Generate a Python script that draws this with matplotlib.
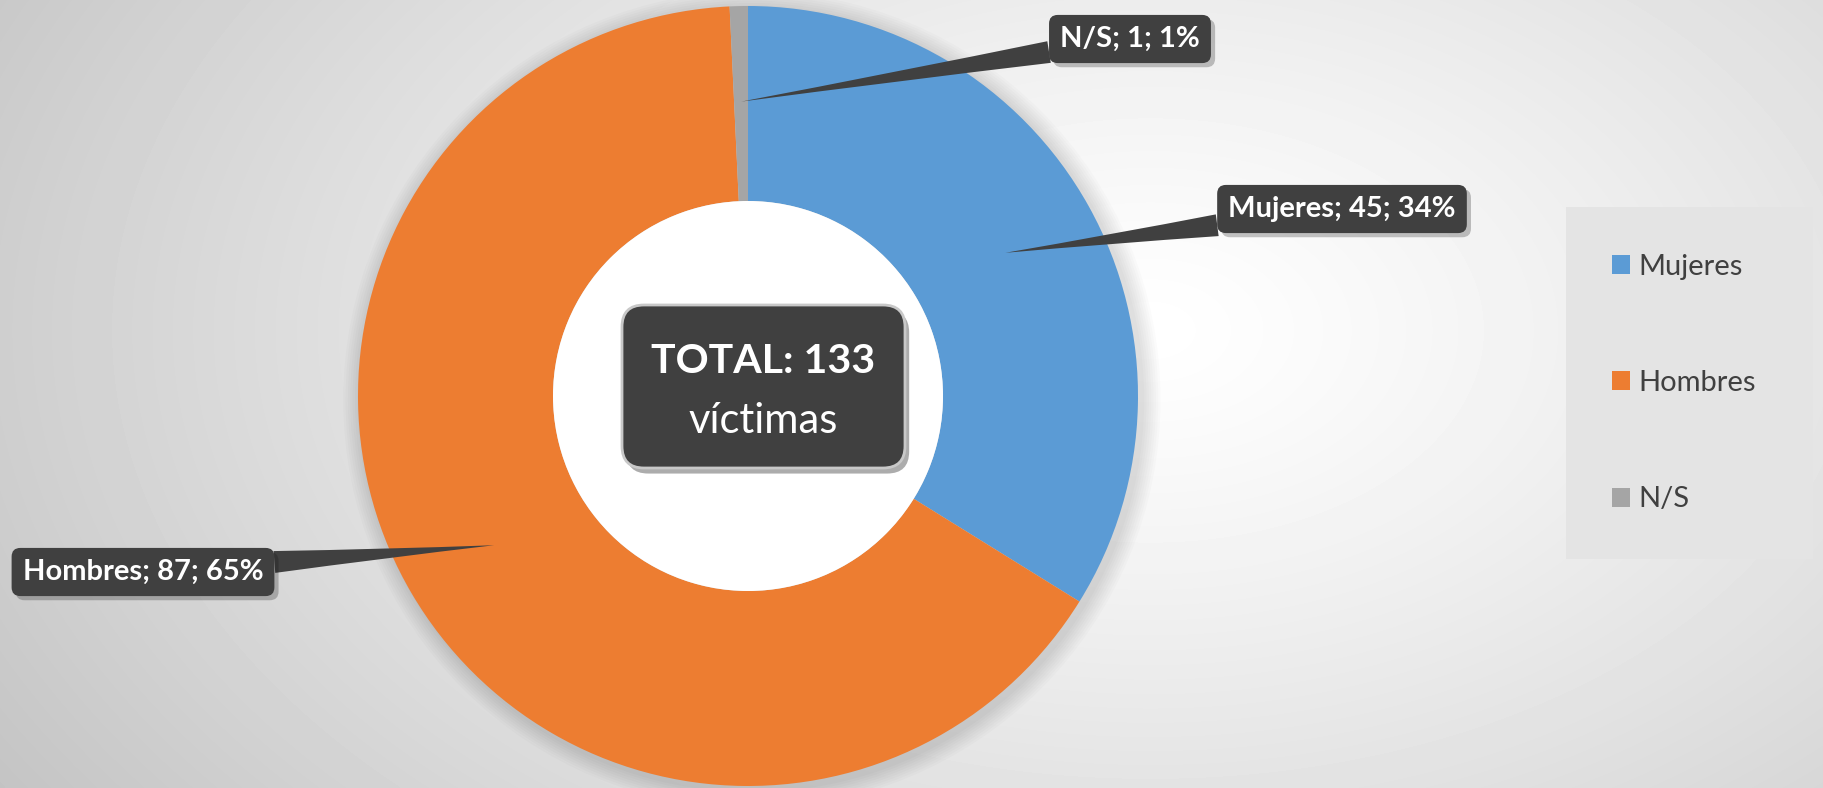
import numpy as np
import matplotlib.pyplot as plt
from matplotlib.patches import Rectangle, Patch, FancyBboxPatch
import matplotlib.patheffects as pe

plt.rcParams['font.family'] = ['Lato', 'DejaVu Sans']

# datos
categorias = ['Mujeres', 'Hombres', 'N/S']
victimas = [45, 87, 1]
colores = ['#5b9bd5', '#ed7d31', '#a5a5a5']
total = sum(victimas)

W, H = 1824, 788
fig = plt.figure(figsize=(W / 100, H / 100), dpi=100)

# fondo con degradado radial
bg = fig.add_axes([0, 0, 1, 1], zorder=-10)
yy, xx = np.mgrid[0:H, 0:W]
d = np.hypot((xx - 1150) / 1100, (yy - 330) / 700)
g = np.clip(1.0 - 0.18 * d ** 1.2, 0, 1)
bg.imshow(g, cmap='gray', vmin=0, vmax=1, aspect='auto', extent=[0, W, H, 0])
bg.set_xlim(0, W)
bg.set_ylim(H, 0)
bg.axis('off')

# ejes del anillo: centro (748, 396) px, radio 390 px
cx, cy, R = 748, 396, 390
ax = fig.add_axes([(cx - R) / W, (H - cy - R) / H, 2 * R / W, 2 * R / H])

# sombra suave
for k in range(8):
    s = 1.0 + 0.006 * (k + 1)
    ax.add_patch(plt.Circle((0.01, -0.01), s, color='k', alpha=0.016, lw=0, clip_on=False, zorder=0))

wedges, _ = ax.pie(victimas, colors=colores, startangle=90, counterclock=False,
                   radius=1.0, wedgeprops=dict(width=0.5, linewidth=0))
for w in wedges:
    w.set_clip_on(False)
# hueco blanco
ax.add_patch(plt.Circle((0, 0), 0.5, color='white', lw=0, zorder=2))
ax.set_xlim(-1, 1)
ax.set_ylim(-1, 1)
ax.axis('off')

# etiquetas con globo
posiciones = {'Mujeres': (1342, 209), 'Hombres': (143, 572), 'N/S': (1130, 39)}
for nombre, v, w in zip(categorias, victimas, wedges):
    theta = np.deg2rad((w.theta1 + w.theta2) / 2)
    tip = (0.755 * np.cos(theta), 0.755 * np.sin(theta))
    px, py = posiciones[nombre]
    pct = round(100 * v / total)
    t = ax.annotate(f'{nombre}; {v}; {pct}%', xy=tip, xycoords='data',
                    xytext=(px, H - py), textcoords='figure pixels',
                    ha='center', va='center', fontsize=21, fontweight='bold', color='white',
                    annotation_clip=False, zorder=5,
                    bbox=dict(boxstyle='round,pad=0.38,rounding_size=0.3', fc='#404040', ec='none'),
                    arrowprops=dict(arrowstyle='wedge,tail_width=0.75,shrink_factor=0.45',
                                    fc='#404040', ec='none', shrinkA=0, shrinkB=0))
    t.get_bbox_patch().set_path_effects([pe.SimplePatchShadow(offset=(3, -3), alpha=0.25), pe.Normal()])

# recuadro central
caja = FancyBboxPatch((622, H - 468), 283, 163, boxstyle='round,pad=0,rounding_size=22',
                      transform=None, fc='#404040', ec='#c8c8c8', lw=2, zorder=6)
caja.set_path_effects([pe.SimplePatchShadow(offset=(3, -4), alpha=0.35), pe.Normal()])
fig.patches.append(caja)
fig.text(763 / W, 1 - 361 / H, f'TOTAL: {total}', ha='center', va='center',
         fontsize=29.5, fontweight='bold', color='white', zorder=7)
fig.text(763 / W, 1 - 421 / H, 'víctimas', ha='center', va='center',
         fontsize=30, color='white', zorder=7)

# leyenda
fig.patches.append(Rectangle((1566, H - 559), 247, 352, transform=None,
                             fc='#e4e4e4', ec='none', zorder=1))
handles = [Patch(fc=c, ec='none') for c in colores]
leg = fig.legend(handles, categorias, loc='center', bbox_to_anchor=(1684 / W, 1 - 383 / H),
                 frameon=False, fontsize=21, labelspacing=3.1, handlelength=0.62,
                 handleheight=0.62, handletextpad=0.3, labelcolor='#404040')

fig.savefig('out.png', dpi=100)
